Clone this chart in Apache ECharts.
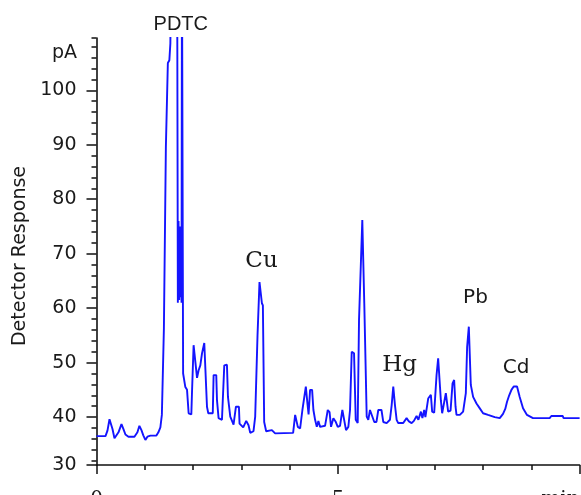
<!DOCTYPE html>
<html>
<head>
<meta charset="utf-8">
<script src="https://cdn.jsdelivr.net/npm/echarts@6/dist/echarts.min.js"></script>
<style>
html,body{margin:0;padding:0;background:#fff;}
#chart{width:581px;height:495px;}
</style>
</head>
<body>
<div id="chart"></div>
<script>
// Retention time (min)
var timeMin = [
  0,0.186,0.227,0.269,0.31,0.331,0.372,0.413,0.455,0.517,0.558,0.599,0.661,0.785,0.847,0.888,0.93,0.971,1.012,1.054,
  1.116,1.24,1.281,1.322,1.353,1.384,1.395,1.426,1.436,1.467,1.477,1.508,1.529,1.55,
  1.653,1.669,1.684,1.698,1.711,1.723,1.736,1.748,1.76,1.769,1.783,1.793,1.839,1.874,1.907,1.963,1.977,2.01,2.045,2.081,
  2.114,2.149,2.184,2.231,2.267,2.287,2.314,2.407,2.424,2.479,2.494,2.527,2.597,2.645,2.7,2.721,2.769,2.837,2.886,2.948,
  2.961,3.037,3.099,3.147,3.182,3.25,3.285,3.333,3.374,3.403,3.424,3.444,3.471,3.512,3.63,3.698,4.07,
  4.112,4.153,4.167,4.215,4.262,4.298,4.333,4.366,4.39,4.421,4.463,4.49,4.525,4.56,4.593,4.628,4.663,4.731,4.787,4.824,
  4.855,4.903,4.948,4.994,5.041,5.089,5.124,5.165,5.213,5.248,5.283,5.331,5.366,5.407,5.434,5.475,5.502,5.523,5.543,5.572,
  5.593,5.626,5.661,5.702,5.75,5.795,5.833,5.899,5.936,6.006,6.074,
  6.11,6.143,6.178,6.213,6.246,6.349,6.419,6.467,6.523,6.57,6.626,6.663,6.715,6.746,6.783,6.808,6.866,6.901,6.921,6.948,
  6.99,7.039,7.072,7.107,7.128,7.155,7.196,7.231,7.258,7.279,7.329,7.37,7.403,7.432,7.452,7.521,7.589,7.645,7.672,7.707,
  7.734,7.748,7.775,7.796,7.866,7.934,8.002,8.105,8.244,
  8.347,8.415,8.461,8.498,8.543,8.589,8.636,8.705,8.76,8.829,8.911,9.035,9.38,9.415,9.649,9.669,10
];
// Detector response (pA)
var responsePA = [
  36.5,36.5,37.5,39.6,39.6,37.8,36.1,36.2,37.2,38.7,37.8,36.8,36.4,36.4,37.2,38.4,37.6,36.6,35.8,36.4,
  36.6,36.6,37.2,38.1,40.4,40.6,56.2,56.5,89.6,89.8,105,105.5,108.6,130,
  130,125,61,76,61.5,75,62,74,61,125,125,48,45.5,45,40.7,40.5,44.6,53.2,53.2,47.2,
  48.6,49.5,51.7,53.6,53.8,41.9,40.7,40.7,47.7,47.7,43.1,39.8,39.5,49.5,49.6,43.7,40.1,38.6,41.9,41.9,
  38.8,38.1,39.3,38.5,37.1,37.4,40.1,55,64.8,64.6,60.9,60.5,39.1,37.4,37.6,37.0,37.1,
  40.4,40.2,38.2,37.9,41.3,41.5,45.6,42.5,40.5,45,45,41.3,39.5,38.2,39.3,38.2,37.9,38.4,41.3,40.9,
  38.2,39.8,39.2,38.2,38.4,41.3,41.5,37.6,38.2,41.3,52.0,51.7,39.5,38.9,57.8,57.8,76.2,76.2,60.9,60.9,
  40.1,39.5,41.3,41.0,39.1,39.1,41.3,41.3,39.1,38.9,39.5,
  42.2,45.6,42.2,39.5,38.9,38.9,39.8,39.2,38.9,39.3,40.2,39.5,41.0,39.8,41.3,40.0,43.4,43.2,44.1,41.0,
  40.8,47.7,50.8,50.8,43.1,40.7,40.7,44.4,44.2,41.0,41.2,46.2,46.8,41.9,40.4,40.4,41.0,44.4,52.9,56.6,
  56.6,45.9,45.7,43.7,42.5,41.6,40.7,40.4,40.0,
  39.8,40.6,41.5,42.8,44,45,45.6,45.6,43.7,41.6,40.4,39.8,39.8,40.2,40.2,39.8,39.8
];
// Axis ticks and labels
var yMin = 31.2, yMax = 109.6;
var yMajorTicks = [31.2, 40, 50, 60, 70, 80, 90, 100];
var yMinorTicks = [32,34,36,38,42,44,46,48,52,54,56,58,62,64,66,68,72,74,76,78,82,84,86,88,92,94,96,98,102,104,106,108,109.6];
var xMajorTicks = [0, 5, 10];
var xMinorTicks = [1, 2, 3, 4, 6, 7, 8, 9];
var xTickLabels = ['0', '5', 'min'];
// Peak annotations
var peakNames = ['PDTC', 'Cu', 'Hg', 'Pb', 'Cd'];

var seriesData = timeMin.map(function (t, i) { return [t, responsePA[i]]; });

var chart = echarts.init(document.getElementById('chart'), null, {renderer: 'canvas'});
var axisCol = '#111';
var txtCol = '#1a1a1a';
var sans = '"DejaVu Sans", sans-serif';
var serif = '"DejaVu Serif", serif';

chart.setOption({
  animation: false,
  backgroundColor: '#fff',
  grid: {left: 96.5, right: 1.4, top: 38, bottom: 30, outerBoundsMode: 'none', containLabel: false},
  xAxis: [{
    type: 'value', min: 0, max: 10, position: 'bottom',
    axisLine: {show: true, lineStyle: {color: axisCol, width: 1.6}},
    axisTick: {show: true, customValues: xMajorTicks, length: 9, inside: false, lineStyle: {color: axisCol, width: 1.5}},
    axisLabel: {
      show: true, customValues: xMajorTicks, margin: 25,
      fontFamily: serif, fontSize: 20, color: txtCol,
      alignMaxLabel: 'right',
      formatter: function (v) { var i = xMajorTicks.indexOf(v); return i >= 0 ? xTickLabels[i] : ''; }
    },
    splitLine: {show: false}
  }, {
    type: 'value', min: 0, max: 10, position: 'bottom', gridIndex: 0,
    axisLine: {show: false},
    axisTick: {show: true, customValues: xMinorTicks, length: 5, inside: false, lineStyle: {color: axisCol, width: 1.5}},
    axisLabel: {show: false},
    splitLine: {show: false}
  }],
  yAxis: [{
    type: 'value', min: yMin, max: yMax, position: 'left',
    name: 'Detector Response', nameLocation: 'middle', nameGap: 62,
    nameTextStyle: {fontFamily: sans, fontSize: 19, color: txtCol, padding: [0, 9, 0, 0]},
    axisLine: {show: true, lineStyle: {color: axisCol, width: 1.6}},
    axisTick: {show: true, customValues: yMajorTicks, length: 10, inside: false, lineStyle: {color: axisCol, width: 1.5}},
    axisLabel: {
      show: true, customValues: yMajorTicks, margin: 20,
      fontFamily: sans, fontSize: 19, color: txtCol,
      formatter: function (v) { return v < 35 ? '30' : String(Math.round(v)); }
    },
    splitLine: {show: false}
  }, {
    type: 'value', min: yMin, max: yMax, position: 'left', gridIndex: 0,
    axisLine: {show: false},
    axisTick: {show: true, customValues: yMinorTicks, length: 5, inside: false, lineStyle: {color: axisCol, width: 1.5}},
    axisLabel: {show: false},
    splitLine: {show: false}
  }],
  series: [{
    type: 'line',
    xAxisIndex: 0, yAxisIndex: 0,
    data: seriesData,
    showSymbol: false,
    symbol: 'none',
    clip: true,
    lineStyle: {color: '#1414ff', width: 1.9},
    emphasis: {disabled: true}
  }],
  graphic: [
    {type: 'text', x: 77, y: 53.5, style: {text: 'pA', font: '19px ' + sans, fill: txtCol, align: 'right', verticalAlign: 'middle'}},
    {type: 'text', x: 180.8, y: 24, style: {text: peakNames[0], font: '20px "Liberation Sans", Arial, sans-serif', fill: txtCol, align: 'center', verticalAlign: 'middle'}},
    {type: 'text', x: 261.5, y: 261.5, style: {text: peakNames[1], font: '23px ' + serif, fill: txtCol, align: 'center', verticalAlign: 'middle'}},
    {type: 'text', x: 399.7, y: 365.5, style: {text: peakNames[2], font: '23px ' + serif, fill: txtCol, align: 'center', verticalAlign: 'middle'}},
    {type: 'text', x: 475.5, y: 298, style: {text: peakNames[3], font: '20px ' + sans, fill: txtCol, align: 'center', verticalAlign: 'middle'}},
    {type: 'text', x: 516, y: 368, style: {text: peakNames[4], font: '20px ' + sans, fill: txtCol, align: 'center', verticalAlign: 'middle'}}
  ]
});
</script>
</body>
</html>
